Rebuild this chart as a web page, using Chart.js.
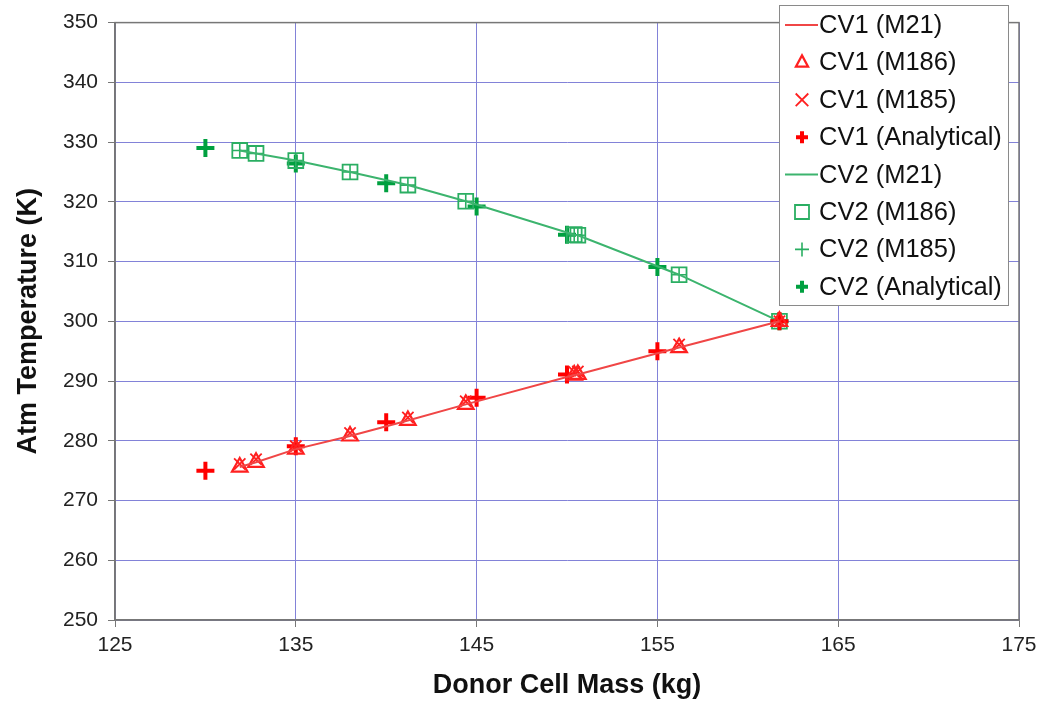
<!DOCTYPE html>
<html>
<head>
<meta charset="utf-8">
<title>Atm Temperature vs Donor Cell Mass</title>
<script src="https://cdn.jsdelivr.net/npm/chart.js@4.4.0/dist/chart.umd.min.js"></script>
<style>
    html, body { margin: 0; padding: 0; background: #fff; }
    #wrap { width: 1044px; height: 704px; position: relative; }
</style>
</head>
<body>
<div id="wrap"><canvas id="tempChart"></canvas></div>
<script>
// Donor cell mass (kg) at each code output
const simMass = [131.9, 132.8, 135.0, 138.0, 141.2, 144.4, 150.4, 150.6, 156.2, 161.75];
// CV1 temperatures (K)
const cv1M21 = [275.6, 276.4, 278.6, 280.8, 283.4, 286.1, 291.0, 291.1, 295.6, 300.0];
const cv1M186 = [275.6, 276.4, 278.6, 280.8, 283.4, 286.1, 291.0, 291.1, 295.6, 300.0];
const cv1M185 = [276.1, 276.9, 279.1, 281.3, 283.9, 286.6, 291.5, 291.6, 296.1, 300.0];
// CV2 temperatures (K)
const cv2M21 = [328.6, 328.1, 326.9, 325.0, 322.8, 320.1, 314.5, 314.4, 307.8, 300.0];
const cv2M186 = [328.6, 328.1, 326.9, 325.0, 322.8, 320.1, 314.5, 314.4, 307.8, 300.0];
const cv2M185 = [328.6, 328.1, 326.9, 325.0, 322.8, 320.1, 314.5, 314.4, 307.8, 300.0];
// analytical solution
const anaMass = [130, 135, 140, 145, 150, 155, 161.75];
const cv1Analytical = [275.0, 279.1, 283.1, 287.2, 291.1, 295.0, 300.0];
const cv2Analytical = [329.0, 326.4, 323.1, 319.2, 314.5, 309.1, 300.0];
// axis ticks
const massTicks = [125, 135, 145, 155, 165, 175];
const tempTicks = [250, 260, 270, 280, 290, 300, 310, 320, 330, 340, 350];

function pairs(xs, ys) {
    return xs.map((x, i) => ({ x: x, y: ys[i] }));
}

const RED_LINE = '#f04646';
const RED = '#ff2020';
const GREEN_LINE = '#3cb46e';
const GREEN = '#2aae62';
const GREEN_DARK = '#00a040';
const GRID = '#8282d8';
const AXIS = '#777';
const FONT = '"Liberation Sans", Arial, sans-serif';

// frame round the plot area
const frame = {
    id: 'frame',
    beforeDatasetsDraw(chart) {
        const a = chart.chartArea;
        const ctx = chart.ctx;
        ctx.save();
        ctx.strokeStyle = AXIS;
        ctx.lineWidth = 1.5;
        ctx.strokeRect(a.left, a.top, a.right - a.left, a.bottom - a.top);
        ctx.restore();
    }
};

function drawMark(ctx, style, x, y, r) {
    ctx.beginPath();
    switch (style) {
        case 'triangle':
            ctx.moveTo(x, y - r);
            ctx.lineTo(x + r * 0.87, y + r * 0.6);
            ctx.lineTo(x - r * 0.87, y + r * 0.6);
            ctx.closePath();
            break;
        case 'rect':
            ctx.rect(x - r * 0.7, y - r * 0.7, r * 1.4, r * 1.4);
            break;
        case 'crossRot':
            ctx.moveTo(x - r * 0.7, y - r * 0.7); ctx.lineTo(x + r * 0.7, y + r * 0.7);
            ctx.moveTo(x + r * 0.7, y - r * 0.7); ctx.lineTo(x - r * 0.7, y + r * 0.7);
            break;
        case 'cross':
            ctx.moveTo(x - r, y); ctx.lineTo(x + r, y);
            ctx.moveTo(x, y - r); ctx.lineTo(x, y + r);
            break;
    }
    ctx.stroke();
}

// boxed legend sitting over the top right of the plot
const boxLegend = {
    id: 'boxLegend',
    afterDraw(chart) {
        const ctx = chart.ctx;
        const a = chart.chartArea;
        const x0 = a.right - 240, y0 = 5, w = 229, h = 300, rowH = 37.4;
        ctx.save();
        ctx.fillStyle = '#fff';
        ctx.fillRect(x0, y0, w, h);
        ctx.strokeStyle = '#8a8a8a';
        ctx.lineWidth = 1;
        ctx.strokeRect(x0 + 0.5, y0 + 0.5, w, h);
        chart.data.datasets.forEach((ds, i) => {
            const cy = y0 + 20 + i * rowH;
            const cx = x0 + 23;
            ctx.strokeStyle = ds.borderColor;
            if (ds.showLine) {
                ctx.lineWidth = 2;
                ctx.beginPath();
                ctx.moveTo(x0 + 6, cy);
                ctx.lineTo(x0 + 39, cy);
                ctx.stroke();
            } else {
                ctx.lineWidth = ds.pointBorderWidth;
                drawMark(ctx, ds.pointStyle, cx, cy, ds.legendRadius);
            }
            ctx.fillStyle = '#111';
            ctx.font = '25.5px ' + FONT;
            ctx.textBaseline = 'middle';
            ctx.fillText(ds.label, x0 + 40, cy + 1);
        });
        ctx.restore();
    }
};

const ctx = document.getElementById('tempChart').getContext('2d');
const tempChart = new Chart(ctx, {
    type: 'scatter',
    data: {
        datasets: [{
            label: 'CV1 (M21)',
            data: pairs(simMass, cv1M21),
            showLine: true,
            borderColor: RED_LINE,
            borderWidth: 2,
            pointRadius: 0
        }, {
            label: 'CV1 (M186)',
            data: pairs(simMass, cv1M186),
            pointStyle: 'triangle',
            pointRadius: 9,
            pointBorderWidth: 2.2,
            legendRadius: 7,
            borderColor: RED,
            backgroundColor: 'transparent'
        }, {
            label: 'CV1 (M185)',
            data: pairs(simMass, cv1M185),
            pointStyle: 'crossRot',
            pointRadius: 8,
            pointBorderWidth: 1.8,
            legendRadius: 9,
            borderColor: RED,
            backgroundColor: 'transparent'
        }, {
            label: 'CV1 (Analytical)',
            data: pairs(anaMass, cv1Analytical),
            pointStyle: 'cross',
            pointRadius: 9,
            pointBorderWidth: 4,
            legendRadius: 6,
            borderColor: '#ff0000',
            backgroundColor: 'transparent'
        }, {
            label: 'CV2 (M21)',
            data: pairs(simMass, cv2M21),
            showLine: true,
            borderColor: GREEN_LINE,
            borderWidth: 2,
            pointRadius: 0
        }, {
            label: 'CV2 (M186)',
            data: pairs(simMass, cv2M186),
            pointStyle: 'rect',
            pointRadius: 10.5,
            pointBorderWidth: 1.8,
            legendRadius: 10,
            borderColor: GREEN,
            backgroundColor: 'transparent'
        }, {
            label: 'CV2 (M185)',
            data: pairs(simMass, cv2M185),
            pointStyle: 'cross',
            pointRadius: 7,
            pointBorderWidth: 1.6,
            legendRadius: 7,
            borderColor: GREEN,
            backgroundColor: 'transparent'
        }, {
            label: 'CV2 (Analytical)',
            data: pairs(anaMass, cv2Analytical),
            pointStyle: 'cross',
            pointRadius: 9,
            pointBorderWidth: 4,
            legendRadius: 6,
            borderColor: GREEN_DARK,
            backgroundColor: 'transparent'
        }]
    },
    options: {
        responsive: true,
        maintainAspectRatio: false,
        animation: false,
        layout: {
            padding: { top: 20, right: 25, left: 0, bottom: 0 }
        },
        plugins: {
            legend: { display: false },
            tooltip: { enabled: false }
        },
        scales: {
            x: {
                type: 'linear',
                min: 125,
                max: 175,
                afterBuildTicks: s => { s.ticks = massTicks.map(v => ({ value: v })); },
                afterFit: s => { s.height = 84; },
                grid: { color: GRID, lineWidth: 1, tickColor: AXIS, tickLength: 7 },
                border: { color: AXIS, width: 1.5 },
                ticks: {
                    color: '#222',
                    padding: 6,
                    maxRotation: 0,
                    font: { family: FONT, size: 21 }
                },
                title: {
                    display: true,
                    text: 'Donor Cell Mass (kg)',
                    color: '#111',
                    padding: { top: 4, bottom: 2 },
                    font: { family: FONT, size: 27, weight: 'bold' }
                }
            },
            y: {
                type: 'linear',
                min: 250,
                max: 350,
                afterBuildTicks: s => { s.ticks = tempTicks.map(v => ({ value: v })); },
                afterFit: s => { s.width = 115; },
                grid: { color: GRID, lineWidth: 1, tickColor: AXIS, tickLength: 7 },
                border: { color: AXIS, width: 1.5 },
                ticks: {
                    color: '#222',
                    padding: 10,
                    font: { family: FONT, size: 21 }
                },
                title: {
                    display: true,
                    text: 'Atm Temperature (K)',
                    color: '#111',
                    padding: { top: 12, bottom: 0 },
                    font: { family: FONT, size: 27, weight: 'bold' }
                }
            }
        }
    },
    plugins: [frame, boxLegend]
});
</script>
</body>
</html>
